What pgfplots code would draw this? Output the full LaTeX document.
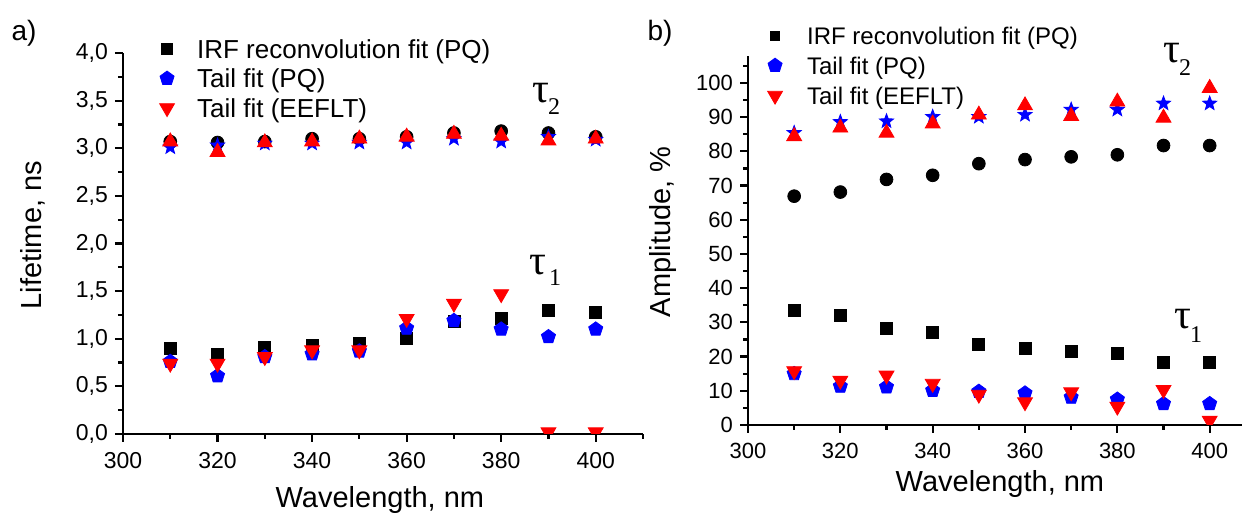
\documentclass[border=0pt]{standalone}
\usepackage{fontspec}
\setmainfont{Liberation Sans}
\newfontfamily\serif{Liberation Serif}
\usepackage{pgfplots}
\pgfplotsset{compat=1.18}
\usetikzlibrary{plotmarks}

% filled five-pointed star
\pgfdeclareplotmark{fstar}{%
  \pgfpathmoveto{\pgfpointpolar{90}{\pgfplotmarksize}}%
  \pgfpathlineto{\pgfpointpolar{126}{0.42\pgfplotmarksize}}%
  \pgfpathlineto{\pgfpointpolar{162}{\pgfplotmarksize}}%
  \pgfpathlineto{\pgfpointpolar{198}{0.42\pgfplotmarksize}}%
  \pgfpathlineto{\pgfpointpolar{234}{\pgfplotmarksize}}%
  \pgfpathlineto{\pgfpointpolar{270}{0.42\pgfplotmarksize}}%
  \pgfpathlineto{\pgfpointpolar{306}{\pgfplotmarksize}}%
  \pgfpathlineto{\pgfpointpolar{342}{0.42\pgfplotmarksize}}%
  \pgfpathlineto{\pgfpointpolar{18}{\pgfplotmarksize}}%
  \pgfpathlineto{\pgfpointpolar{54}{0.42\pgfplotmarksize}}%
  \pgfpathclose\pgfusepathqfillstroke}

\pgfplotsset{
  panel/.style={
    scale only axis,
    axis lines=left,
    axis line style={-, line width=1.2pt},
    tick align=outside,
    tick pos=left,
    major tick length=4pt,
    minor tick length=2.5pt,
    tick style={black, line width=1.1pt},
    clip marker paths=true,
    /pgf/number format/assume math mode=true,
    xmin=300,
    xtick={300,320,...,400},
    minor xtick={310,330,350,370,390,410},
    xticklabel style={yshift=-1.5pt},
    label style={font=\fontsize{14.5}{16}\selectfont},
    legend style={draw=none, fill=none, inner sep=0pt, outer sep=0pt,
      anchor=north west},
    legend cell align=left,
    legend image code/.code={\draw[#1] plot coordinates {(0pt,0pt)};},
  },
  sq/.style={only marks, black, mark=square*, mark size=3pt},
  ci/.style={only marks, black, mark=*, mark size=3.2pt},
  pe/.style={only marks, blue, mark=pentagon*, mark size=3.7pt},
  st/.style={only marks, blue, mark=fstar, mark size=3.7pt},
  dt/.style={only marks, red, mark=triangle*, mark size=4.3pt, mark options={rotate=180}},
  ut/.style={only marks, red, mark=triangle*, mark size=4.3pt},
}

\begin{document}
\begin{tikzpicture}
\useasboundingbox (0,0) rectangle (621.5pt,256.5pt);

% ---------------- panel a ----------------
\begin{axis}[panel,
  at={(61.5pt,39.5pt)}, anchor=south west,
  width=260pt, height=190.5pt,
  xmax=410, ymin=0, ymax=4,
  ytick={0,0.5,...,4},
  minor ytick={0.25,0.75,...,3.75},
  yticklabel style={/pgf/number format/.cd, use comma, fixed, fixed zerofill, precision=1},
  tick label style={font=\fontsize{11.5}{12}\selectfont},
  xlabel={Wavelength, nm},
  ylabel={Lifetime, ns},
  xlabel style={at={(axis description cs:0.494,-0.172)}, anchor=center},
  ylabel style={at={(axis description cs:-0.173,0.522)}, anchor=center},
  legend style={at={(axis description cs:0.0704,1.035)},
    font=\fontsize{13}{13}\selectfont,
    nodes={inner sep=0pt, text height=9.3pt, text depth=0pt},
    row sep=5.45pt, column sep=11.3pt},
]
\addlegendimage{sq, mark size=2.6pt}
\addlegendimage{pe}
\addlegendimage{dt}
\legend{IRF reconvolution fit (PQ), Tail fit (PQ), Tail fit (EEFLT)}

% tau_2
\addplot[ci, forget plot] coordinates {(310,3.07) (320,3.06) (330,3.07) (340,3.10) (350,3.10)
  (360,3.12) (370,3.16) (380,3.18) (390,3.16) (400,3.12)};
\addplot[st, forget plot] coordinates {(310,3.01) (320,3.03) (330,3.05) (340,3.05) (350,3.06)
  (360,3.06) (370,3.10) (380,3.07) (390,3.12) (400,3.09)};
\addplot[ut, forget plot] coordinates {(310,3.07) (320,2.96) (330,3.06) (340,3.07) (350,3.10)
  (360,3.12) (370,3.15) (380,3.13) (390,3.08) (400,3.10)};
% tau_1
\addplot[sq, forget plot] coordinates {(310,0.90) (320,0.84) (330,0.91) (340,0.93) (350,0.95)
  (360,1.00) (370,1.18) (380,1.21) (390,1.30) (400,1.28)};
\addplot[pe, forget plot] coordinates {(310,0.76) (320,0.61) (330,0.81) (340,0.84) (350,0.87)
  (360,1.11) (370,1.19) (380,1.10) (390,1.02) (400,1.10)};
\addplot[dt, forget plot] coordinates {(310,0.74) (320,0.74) (330,0.81) (340,0.88) (350,0.88)
  (360,1.21) (370,1.37) (380,1.47) (390,0.02) (400,0.02)};
\end{axis}

% ---------------- panel b ----------------
\begin{axis}[panel,
  at={(374pt,44pt)}, anchor=south west,
  width=247pt, height=184.7pt,
  xmax=407, ymin=0, ymax=108,
  ytick={0,10,...,100},
  minor ytick={5,15,...,105},
  tick label style={font=\fontsize{11}{12}\selectfont},
  xlabel={Wavelength, nm},
  ylabel={Amplitude, \%},
  xlabel style={at={(axis description cs:0.51,-0.16)}, anchor=center},
  ylabel style={at={(axis description cs:-0.172,0.523)}, anchor=center},
  legend style={at={(axis description cs:0.0397,1.0775)},
    font=\fontsize{12}{12}\selectfont,
    nodes={inner sep=0pt, text height=8.6pt, text depth=0pt},
    row sep=6.4pt, column sep=12.3pt},
]
\addlegendimage{sq, mark size=2.2pt}
\addlegendimage{pe}
\addlegendimage{dt}
\legend{IRF reconvolution fit (PQ), Tail fit (PQ), Tail fit (EEFLT)}

% tau_2
\addplot[ci, forget plot] coordinates {(310,66.9) (320,68.1) (330,71.8) (340,73.0) (350,76.4)
  (360,77.6) (370,78.4) (380,79.0) (390,81.7) (400,81.7)};
\addplot[st, forget plot] coordinates {(310,85.4) (320,88.6) (330,88.8) (340,90.1) (350,90.1)
  (360,90.7) (370,92.2) (380,92.2) (390,94.0) (400,94.0)};
\addplot[ut, forget plot] coordinates {(310,84.4) (320,86.9) (330,85.4) (340,88.1) (350,90.7)
  (360,93.4) (370,90.3) (380,94.5) (390,89.8) (400,98.5)};
% tau_1
\addplot[sq, forget plot] coordinates {(310,33.4) (320,32.0) (330,28.2) (340,27.0) (350,23.5)
  (360,22.4) (370,21.6) (380,20.9) (390,18.2) (400,18.3)};
\addplot[pe, forget plot] coordinates {(310,15.0) (320,11.3) (330,11.1) (340,10.1) (350,9.8)
  (360,9.3) (370,8.1) (380,7.5) (390,6.2) (400,6.2)};
\addplot[dt, forget plot] coordinates {(310,15.8) (320,13.0) (330,14.5) (340,12.1) (350,8.9)
  (360,6.7) (370,9.6) (380,5.4) (390,10.3) (400,1.3)};
\end{axis}

% panel letters
\node[font=\fontsize{14}{14}\selectfont] at (12pt,240pt) {a)};
\node[font=\fontsize{14}{14}\selectfont] at (330pt,240pt) {b)};

% tau labels
\node[font=\serif\fontsize{21}{21}\selectfont] at (270.5pt,210.2pt) {τ};
\node[font=\serif\fontsize{12}{12}\selectfont] at (277pt,203pt) {2};
\node[font=\serif\fontsize{21}{21}\selectfont] at (269pt,124pt) {τ};
\node[font=\serif\fontsize{12}{12}\selectfont] at (277.5pt,117.5pt) {1};
\node[font=\serif\fontsize{21}{21}\selectfont] at (586pt,230pt) {τ};
\node[font=\serif\fontsize{12}{12}\selectfont] at (592.5pt,222.5pt) {2};
\node[font=\serif\fontsize{21}{21}\selectfont] at (591.5pt,97pt) {τ};
\node[font=\serif\fontsize{12}{12}\selectfont] at (598pt,89pt) {1};
\end{tikzpicture}
\end{document}
